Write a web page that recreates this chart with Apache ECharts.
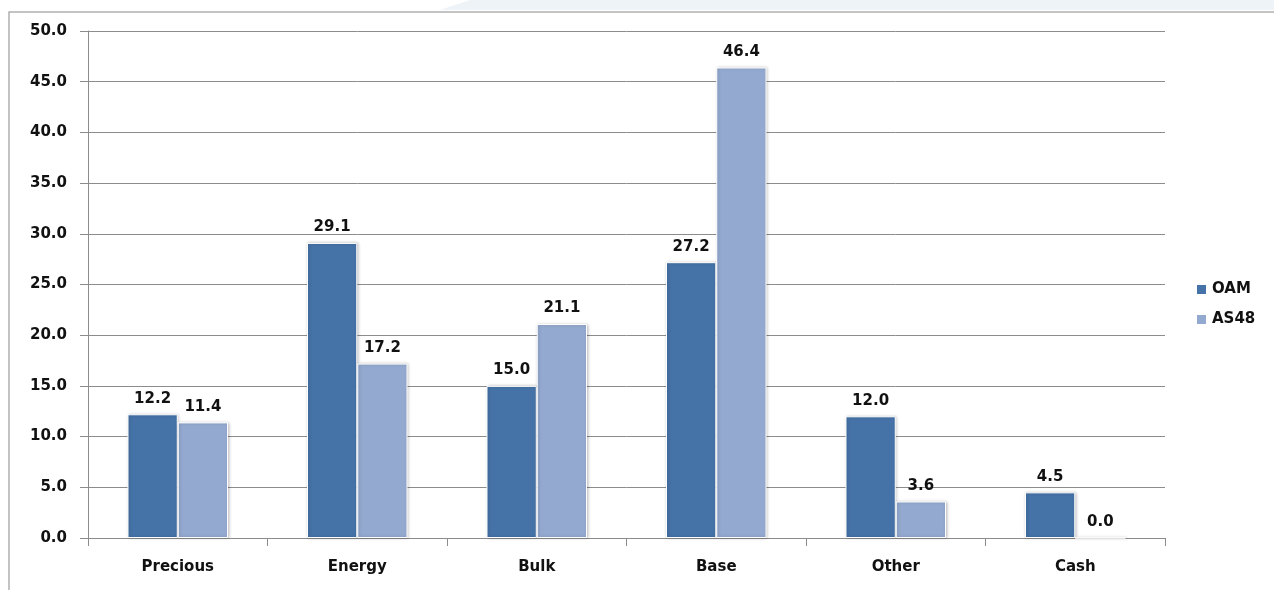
<!DOCTYPE html>
<html>
<head>
<meta charset="utf-8">
<script src="https://cdn.jsdelivr.net/npm/echarts@6/dist/echarts.min.js"></script>
<style>
html, body { margin: 0; padding: 0; background: #fff; }
#chart { width: 1274px; height: 590px; }
</style>
</head>
<body>
<div id="chart"></div>
<script>
var categories = ['Precious', 'Energy', 'Bulk', 'Base', 'Other', 'Cash'];
var oamValues = [12.2, 29.1, 15.0, 27.2, 12.0, 4.5];
var as48Values = [11.4, 17.2, 21.1, 46.4, 3.6, 0.0];
var yTicks = [0, 5, 10, 15, 20, 25, 30, 35, 40, 45, 50];

var labelFont = {
	show: true,
	position: 'top',
	distance: 8,
	color: '#111',
	fontFamily: 'DejaVu Sans',
	fontWeight: 'bold',
	fontSize: 15,
	formatter: function(p) { return p.value.toFixed(1); }
};

function makeSeries(name, data, color) {
	return {
		name: name,
		type: 'bar',
		data: data,
		barGap: '0%',
		barCategoryGap: '44%',
		itemStyle: {
			color: color,
			borderColor: '#fff',
			borderWidth: 1,
			shadowColor: 'rgba(0,0,0,0.22)',
			shadowBlur: 3,
			shadowOffsetX: 1
		},
		label: labelFont
	};
}

var chart = echarts.init(document.getElementById('chart'));
chart.setOption({
	animation: false,
	backgroundColor: '#fff',
	graphic: [
		{ type: 'polygon', silent: true, z: -10, shape: { points: [[470, 0], [1274, 0], [1274, 10], [440, 10]] }, style: { fill: '#eef3f8' } },
		{ type: 'rect', silent: true, z: -5, shape: { x: 9, y: 12, width: 1300, height: 600 }, style: { fill: '#fff', stroke: '#b0b0b0', lineWidth: 1.5 } }
	],
	grid: { left: 88, right: 109, top: 31, bottom: 52 },
	legend: {
		orient: 'vertical',
		left: 1190,
		top: 277,
		itemWidth: 11,
		itemHeight: 11,
		itemGap: 15,
		icon: 'rect',
		textStyle: { fontFamily: 'DejaVu Sans', fontWeight: 'bold', fontSize: 15, color: '#111', padding: [0, 0, 0, 0] },
		data: ['OAM', 'AS48']
	},
	xAxis: {
		type: 'category',
		data: categories,
		axisLine: { lineStyle: { color: '#8c8c8c', width: 1 } },
		axisTick: { show: true, length: 8, lineStyle: { color: '#8c8c8c' } },
		axisLabel: { margin: 22, color: '#111', fontFamily: 'DejaVu Sans', fontWeight: 'bold', fontSize: 15 }
	},
	yAxis: {
		type: 'value',
		min: yTicks[0],
		max: yTicks[yTicks.length - 1],
		interval: 5,
		axisLine: { show: true, lineStyle: { color: '#8c8c8c', width: 1 } },
		axisTick: { show: true, length: 8, lineStyle: { color: '#8c8c8c' } },
		splitLine: { lineStyle: { color: '#8c8c8c', width: 1 } },
		axisLabel: {
			margin: 21,
			color: '#111',
			fontFamily: 'DejaVu Sans',
			fontWeight: 'bold',
			fontSize: 15,
			formatter: function(v) { return v.toFixed(1); }
		}
	},
	series: [
		makeSeries('OAM', oamValues, '#4572a7'),
		makeSeries('AS48', as48Values, '#93a9cf')
	]
});
</script>
</body>
</html>
